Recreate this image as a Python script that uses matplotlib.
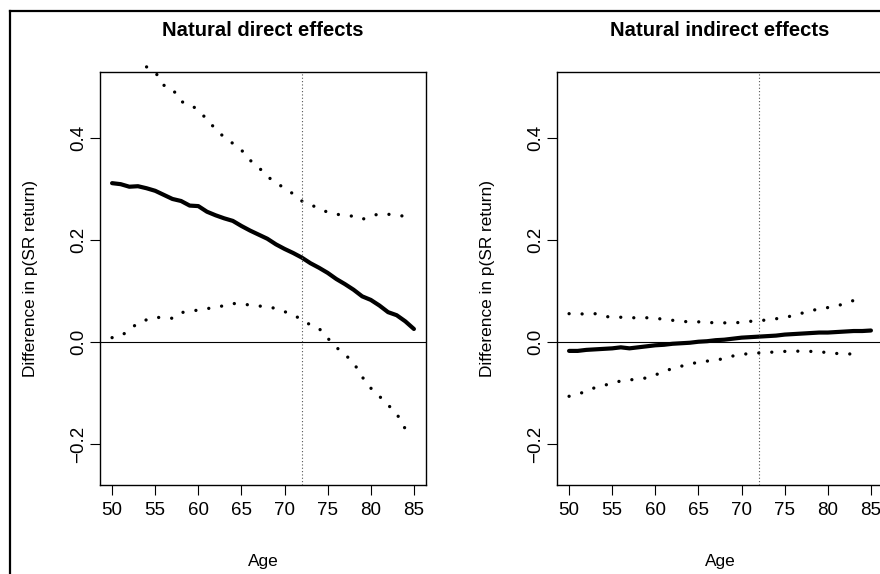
import numpy as np
import matplotlib
matplotlib.use("Agg")
import matplotlib.pyplot as plt
from matplotlib.lines import Line2D

plt.rcParams['font.family'] = ['Liberation Sans', 'DejaVu Sans']

ages = np.arange(50, 86)
ci_ages = np.arange(50, 85)
upper_ages_nde = np.arange(54, 85)

nde = [0.312, 0.310, 0.305, 0.306, 0.302, 0.297, 0.289, 0.281, 0.277, 0.268,
       0.267, 0.256, 0.249, 0.243, 0.238, 0.228, 0.219, 0.211, 0.203, 0.192,
       0.183, 0.175, 0.166, 0.155, 0.146, 0.136, 0.124, 0.114, 0.103, 0.090,
       0.083, 0.072, 0.059, 0.053, 0.041, 0.026]
nde_upper = [0.540, 0.530, 0.504, 0.497, 0.472, 0.467, 0.455, 0.437, 0.418, 0.402,
             0.390, 0.377, 0.357, 0.343, 0.325, 0.313, 0.302, 0.291, 0.277, 0.270,
             0.262, 0.255, 0.251, 0.249, 0.247, 0.241, 0.247, 0.252, 0.251, 0.249,
             0.247]
nde_lower = [0.009, 0.012, 0.024, 0.038, 0.044, 0.049, 0.048, 0.047, 0.058, 0.061,
             0.063, 0.066, 0.068, 0.072, 0.076, 0.075, 0.073, 0.071, 0.070, 0.066,
             0.060, 0.054, 0.044, 0.034, 0.027, 0.008, -0.010, -0.024, -0.040, -0.068,
             -0.090, -0.106, -0.123, -0.140, -0.170]

nie = [-0.017, -0.017, -0.015, -0.014, -0.013, -0.012, -0.010, -0.012, -0.010, -0.008,
       -0.006, -0.005, -0.003, -0.002, -0.001, 0.001, 0.002, 0.004, 0.005, 0.007,
       0.009, 0.010, 0.011, 0.012, 0.013, 0.015, 0.016, 0.017, 0.018, 0.019,
       0.019, 0.020, 0.021, 0.022, 0.022, 0.023]
nie_upper = [0.056, 0.055, 0.056, 0.056, 0.051, 0.049, 0.049, 0.048, 0.048, 0.048,
             0.047, 0.045, 0.043, 0.041, 0.040, 0.040, 0.039, 0.038, 0.038, 0.038,
             0.039, 0.041, 0.042, 0.044, 0.046, 0.049, 0.052, 0.057, 0.062, 0.065,
             0.068, 0.071, 0.076, 0.082, 0.091]
nie_lower = [-0.106, -0.102, -0.096, -0.089, -0.085, -0.080, -0.076, -0.074, -0.072, -0.070,
             -0.064, -0.058, -0.051, -0.047, -0.043, -0.039, -0.037, -0.035, -0.032, -0.027,
             -0.024, -0.022, -0.021, -0.020, -0.019, -0.018, -0.017, -0.018, -0.018, -0.018,
             -0.021, -0.022, -0.023, -0.023, -0.023]

titles = ['Natural direct effects', 'Natural indirect effects']
xticks = [50, 55, 60, 65, 70, 75, 80, 85]
yticks = [-0.2, 0.0, 0.2, 0.4]
cutoff_age = 72

W, H = 880, 574
fig = plt.figure(figsize=(W / 100, H / 100), dpi=100)

# outer frame (cropped at right and bottom)
fig.add_artist(Line2D([10 / W, 1.0], [1 - 11 / H, 1 - 11 / H], color='black', lw=1.6))
fig.add_artist(Line2D([10 / W, 10 / W], [0.0, 1 - 11 / H], color='black', lw=1.6))

panels = [
    (100, ages, nde, upper_ages_nde, nde_upper, ci_ages, nde_lower),
    (557, ages, nie, ci_ages, nie_upper, ci_ages, nie_lower),
]

dot_style = (0, (0.01, 3.9))

for i, (left_px, xs, est, xu, up, xl, lo) in enumerate(panels):
    ax = fig.add_axes([left_px / W, (H - 485) / H, 326 / W, 413 / H])
    ax.set_xlim(48.6, 86.4)
    ax.set_ylim(-0.28, 0.53)

    ax.plot(xs, est, color='black', lw=3.0, solid_capstyle='round', solid_joinstyle='round')
    ax.plot(xu, up, color='black', lw=2.4, linestyle=dot_style,
            dash_capstyle='round', clip_on=False)
    ax.plot(xl, lo, color='black', lw=2.4, linestyle=dot_style,
            dash_capstyle='round')
    ax.axhline(0, color='black', lw=0.8)
    ax.axvline(cutoff_age, color='#555555', lw=0.8, linestyle=(0, (1, 2)))

    ax.set_xticks(xticks)
    ax.set_yticks(yticks)
    ax.set_yticklabels(['\u22120.2', '0.0', '0.2', '0.4'], rotation=90, va='center')
    ax.tick_params(axis='both', direction='out', length=7.5, width=0.8,
                   labelsize=13.5, color='black')
    ax.tick_params(axis='x', pad=5)
    ax.tick_params(axis='y', pad=2)
    for s in ax.spines.values():
        s.set_linewidth(1.0)

    ax.set_title(titles[i], fontsize=14.6, fontweight='bold', pad=26)
    ax.set_xlabel('Age', fontsize=12.4, labelpad=25)
    ax.set_ylabel('Difference in p(SR return)', fontsize=12.4, labelpad=23)

fig.savefig('out.png', dpi=100)
